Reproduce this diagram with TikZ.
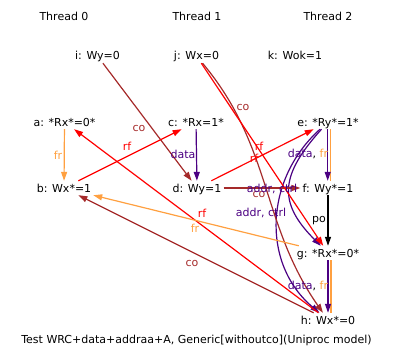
\documentclass[tikz,border=0pt]{standalone}
\usepackage{fontspec}
\newfontfamily\dejavu{DejaVu Sans}
\usetikzlibrary{arrows.meta}

\definecolor{cobrown}{HTML}{A52A2A}
\definecolor{rfred}{HTML}{FF0000}
\definecolor{frorange}{HTML}{FFA040}
\definecolor{depind}{HTML}{4B0082}

\begin{document}
\begin{tikzpicture}[
  x=1pt, y=1pt,
  every node/.style={font=\dejavu\fontsize{11}{13}\selectfont},
  ev/.style={inner xsep=2pt, inner ysep=2pt, text height=9pt, text depth=1pt},
  lbl/.style={inner sep=0pt},
  arr/.style={-{Triangle[length=9pt,width=6pt]}, line width=1.2pt},
  coarr/.style={arr, cobrown},
  rfarr/.style={arr, rfred},
  frarr/.style={arr, frorange},
  deparr/.style={arr, depind},
  poarr/.style={arr, black}
]
\useasboundingbox (0,0) rectangle (394,-361);

%% ---- THREADS ---------------------------------------------------
\node[ev] (t0) at (64,  -17) {Thread 0};
\node[ev] (t1) at (197, -17) {Thread 1};
\node[ev] (t2) at (328, -17) {Thread 2};

%% ---- INITIAL WRITES --------------------------------------------
\node[ev] (i) at (97.5, -56) {i: Wy=0};
\node[ev] (j) at (196.5,-56) {j: Wx=0};
\node[ev] (k) at (295,  -56) {k: Wok=1};

%% ---- EVENTS ----------------------------------------------------
\node[ev] (a) at (64.5, -122) {a: *Rx*=0*};
\node[ev] (c) at (196,  -122) {c: *Rx=1*};
\node[ev] (e) at (328,  -122) {e: *Ry*=1*};
\node[ev] (b) at (64,   -188) {b: Wx*=1};
\node[ev] (d) at (197,  -188) {d: Wy=1};
\node[ev] (f) at (328,  -188) {f: Wy*=1};
\node[ev] (g) at (328,  -253) {g: *Rx*=0*};
\node[ev] (h) at (328,  -320) {h: Wx*=0};

%% ---- PROGRAM ORDER / DEPENDENCIES -------------------------------
\draw[frarr]  (a) -- (b);
\draw[deparr] (c) -- (d);
\draw[frorange, line width=1.2pt]
  ([xshift=2.2pt]e.south) -- ([xshift=2.2pt]f.north);
\draw[deparr] ([xshift=-0.3pt]e.south) -- ([xshift=-0.3pt]f.north);
\draw[poarr]  (f) -- (g);
\draw[frorange, line width=1.2pt]
  ([xshift=3pt]g.south) -- ([xshift=3pt]h.north);
\draw[deparr] (g) -- (h);
\draw[deparr] (e) to[out=228, in=135, looseness=1.35] (g);
\draw[deparr] (e) to[out=222, in=140, looseness=1.05] (h);

%% ---- CO / RF / FR ----------------------------------------------
\draw[coarr] (i) -- (d);
\draw[coarr] (j) to[out=-50, in=125] (h);
\draw[coarr] (d) -- (f);
\draw[coarr] (h) -- (b);
\draw[rfarr] (j) -- (g);
\draw[rfarr] (d) -- (e);
\draw[rfarr] (b) -- (c);
\draw[rfarr] (h) -- (a);
\draw[frarr] (g) -- (b);

%% ---- LABELS ----------------------------------------------------
\node[lbl, text=frorange] (lfra)  at (58,  -155) {fr};
\node[lbl, text=depind]   (ldat)  at (183, -154) {data};
\node[lbl] (ldfa) at (308, -154) {\textcolor{depind}{data},~\textcolor{frorange}{fr}};
\node[lbl] (lpo)  at (319, -221) {po};
\node[lbl] (ldfb) at (308, -286) {\textcolor{depind}{data},~\textcolor{frorange}{fr}};
\node[lbl, text=cobrown]  (lcoa)  at (139, -128) {co};
\node[lbl, text=cobrown]  (lcob)  at (243, -107) {co};
\node[lbl, text=rfred]    (lrfa)  at (259, -146) {rf};
\node[lbl, text=rfred]    (lrfb)  at (254, -158) {rf};
\node[lbl, text=cobrown]  (lcoc)  at (259, -194) {co};
\node[lbl, text=depind]   (lacg)  at (272, -189) {addr,~ctrl};
\node[lbl, text=depind]   (lach)  at (261, -213) {addr,~ctrl};
\node[lbl, text=rfred]    (lrfc)  at (127, -146) {rf};
\node[lbl, text=rfred]    (lrfd)  at (202, -213) {rf};
\node[lbl, text=frorange] (lfrb)  at (195, -228) {fr};
\node[lbl, text=cobrown]  (lcod)  at (192, -263) {co};

\node[ev] (title) at (196.5, -339)
  {Test WRC+data+addraa+A, Generic[withoutco](Uniproc model)};

\end{tikzpicture}
\end{document}
